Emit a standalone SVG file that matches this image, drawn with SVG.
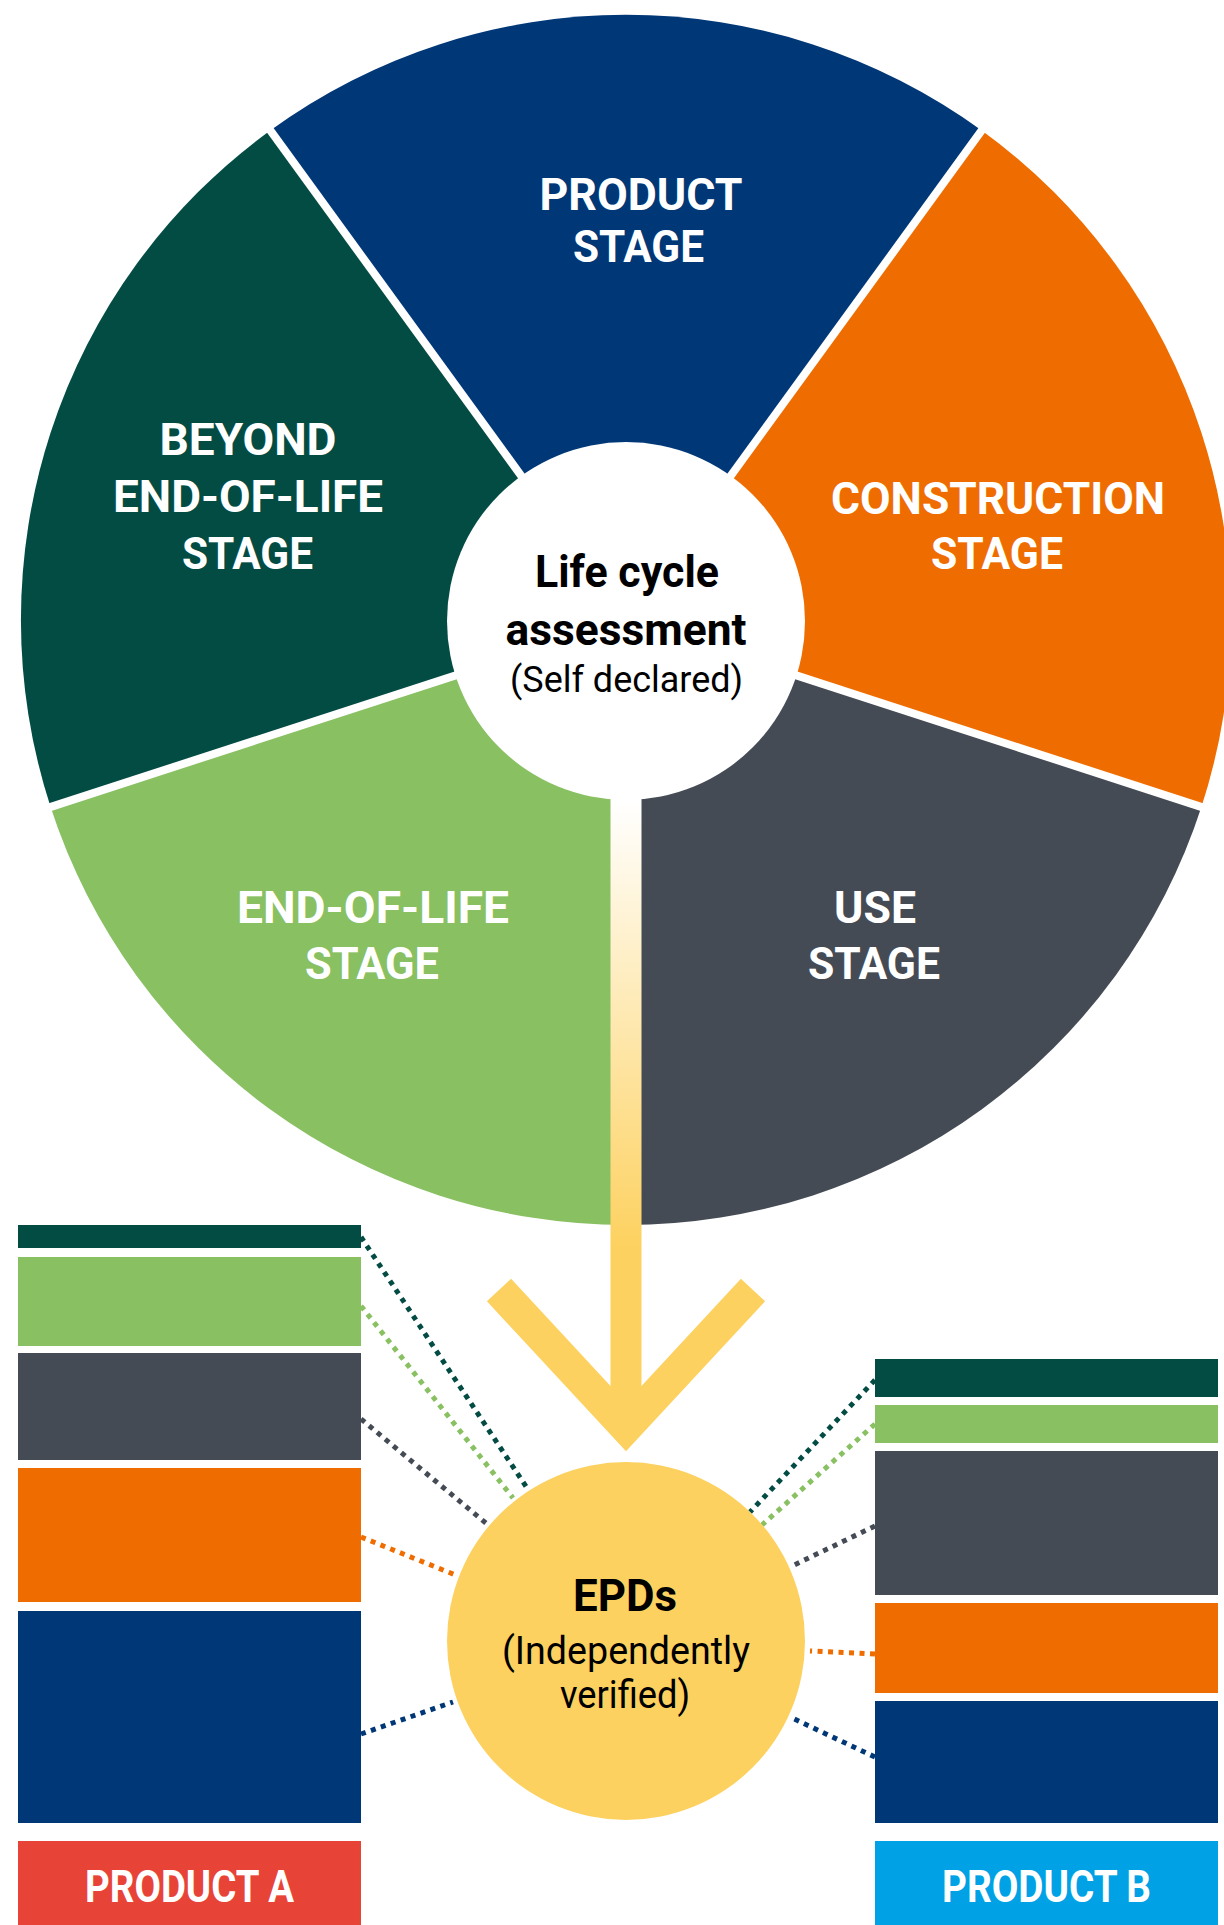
<svg xmlns="http://www.w3.org/2000/svg" width="1224" height="1925" viewBox="0 0 1224 1925">
<defs>
<linearGradient id="barGrad" gradientUnits="userSpaceOnUse" x1="0" y1="800" x2="0" y2="1250">
<stop offset="0" stop-color="#FFFFFF"/>
<stop offset="1" stop-color="#FDD15F"/>
</linearGradient>
<style>
.lbl{font-family:Roboto,"Liberation Sans",sans-serif;font-weight:700;font-size:44px;fill:#FFFFFF;text-anchor:middle}
.dark{font-family:Roboto,"Liberation Sans",sans-serif;fill:#000000;text-anchor:middle}
.b{font-weight:700}
.gap{stroke:#FFFFFF;stroke-width:8;fill:none}
.dot{fill:none;stroke-width:5;stroke-dasharray:5 5.5}
</style>
</defs>
<rect width="1224" height="1925" fill="#FFFFFF"/>

<g id="wheel">
<g id="product-stage">
<path d="M626,620 L270.6,130.2 A605,605 0 0 1 981.4,130.2 Z" fill="#003777"/>
<text class="lbl" x="641" y="210" textLength="203" lengthAdjust="spacingAndGlyphs">PRODUCT</text>
<text class="lbl" x="638.5" y="262" textLength="131" lengthAdjust="spacingAndGlyphs">STAGE</text>
</g>
<g id="construction-stage">
<path d="M626,620 L981.4,130.2 A605,605 0 0 1 1201.4,807 Z" fill="#EF6D00"/>
<text class="lbl" x="998" y="514" textLength="334" lengthAdjust="spacingAndGlyphs">CONSTRUCTION</text>
<text class="lbl" x="997" y="569" textLength="132" lengthAdjust="spacingAndGlyphs">STAGE</text>
</g>
<g id="use-stage">
<path d="M626,620 L1201.4,807 A605,605 0 0 1 626,1225 Z" fill="#454B55"/>
<text class="lbl" x="875" y="923" textLength="82" lengthAdjust="spacingAndGlyphs">USE</text>
<text class="lbl" x="874" y="979" textLength="132" lengthAdjust="spacingAndGlyphs">STAGE</text>
</g>
<g id="end-of-life-stage">
<path d="M626,620 L626,1225 A605,605 0 0 1 50.6,807 Z" fill="#88C062"/>
<text class="lbl" x="373" y="923" textLength="272" lengthAdjust="spacingAndGlyphs">END-OF-LIFE</text>
<text class="lbl" x="372" y="979" textLength="134" lengthAdjust="spacingAndGlyphs">STAGE</text>
</g>
<g id="beyond-stage">
<path d="M626,620 L50.6,807 A605,605 0 0 1 270.6,130.2 Z" fill="#034C44"/>
<text class="lbl" x="248" y="455" textLength="177" lengthAdjust="spacingAndGlyphs">BEYOND</text>
<text class="lbl" x="248" y="512" textLength="270" lengthAdjust="spacingAndGlyphs">END-OF-LIFE</text>
<text class="lbl" x="247.5" y="569" textLength="131" lengthAdjust="spacingAndGlyphs">STAGE</text>
</g>
<g id="gaps">
<line class="gap" x1="626" y1="620" x2="261.6" y2="118.4"/>
<line class="gap" x1="626" y1="620" x2="990.4" y2="118.4"/>
<line class="gap" x1="626" y1="620" x2="1215.7" y2="811.6"/>
<line class="gap" x1="626" y1="620" x2="36.3" y2="811.6"/>
</g>
</g>

<g id="connectors">
<rect x="610.5" y="790" width="31" height="620" fill="url(#barGrad)"/>
<polyline points="499,1290 626,1427 753,1290" fill="none" stroke="#FDD15F" stroke-width="33" stroke-linejoin="miter" stroke-miterlimit="10"/>
<line class="dot" stroke="#034C44" x1="361" y1="1237" x2="527" y2="1488"/>
<line class="dot" stroke="#88C062" x1="361" y1="1306" x2="513" y2="1498"/>
<line class="dot" stroke="#454B55" x1="361" y1="1419" x2="487" y2="1524"/>
<line class="dot" stroke="#EF6D00" x1="361" y1="1537" x2="458" y2="1576"/>
<line class="dot" stroke="#003777" x1="361" y1="1734" x2="453" y2="1702"/>
<line class="dot" stroke="#034C44" x1="875" y1="1380" x2="750" y2="1512"/>
<line class="dot" stroke="#88C062" x1="875" y1="1424" x2="762" y2="1525"/>
<line class="dot" stroke="#454B55" x1="875" y1="1526" x2="790" y2="1567"/>
<line class="dot" stroke="#EF6D00" x1="875" y1="1654" x2="810" y2="1651"/>
<line class="dot" stroke="#003777" x1="875" y1="1757" x2="790" y2="1717"/>
</g>

<g id="lca">
<circle cx="626" cy="621" r="179" fill="#FFFFFF"/>
<text class="dark b" x="627" y="587" font-size="44" textLength="184" lengthAdjust="spacingAndGlyphs">Life cycle</text>
<text class="dark b" x="626" y="645" font-size="44" textLength="241" lengthAdjust="spacingAndGlyphs">assessment</text>
<text class="dark" x="626.5" y="692" font-size="36" textLength="233" lengthAdjust="spacingAndGlyphs">(Self declared)</text>
</g>

<g id="epds">
<circle cx="626" cy="1641" r="179" fill="#FDD15F"/>
<text class="dark b" x="625" y="1611" font-size="44" textLength="104" lengthAdjust="spacingAndGlyphs">EPDs</text>
<text class="dark" x="626" y="1664" font-size="39" textLength="248" lengthAdjust="spacingAndGlyphs">(Independently</text>
<text class="dark" x="625" y="1708" font-size="39" textLength="130" lengthAdjust="spacingAndGlyphs">verified)</text>
</g>

<g id="product-a">
<rect x="18" y="1225" width="343" height="23" fill="#034C44"/>
<rect x="18" y="1257" width="343" height="89" fill="#88C062"/>
<rect x="18" y="1353" width="343" height="107" fill="#454B55"/>
<rect x="18" y="1468" width="343" height="134" fill="#EF6D00"/>
<rect x="18" y="1611" width="343" height="212" fill="#003777"/>
<rect x="18" y="1841" width="343" height="84" fill="#E84337"/>
<text class="lbl" x="189.5" y="1902" font-size="40" textLength="209" lengthAdjust="spacingAndGlyphs">PRODUCT A</text>
</g>

<g id="product-b">
<rect x="875" y="1359" width="343" height="38" fill="#034C44"/>
<rect x="875" y="1405" width="343" height="38" fill="#88C062"/>
<rect x="875" y="1451" width="343" height="144" fill="#454B55"/>
<rect x="875" y="1603" width="343" height="90" fill="#EF6D00"/>
<rect x="875" y="1701" width="343" height="122" fill="#003777"/>
<rect x="875" y="1841" width="343" height="84" fill="#00A2E5"/>
<text class="lbl" x="1046.5" y="1902" font-size="40" textLength="209" lengthAdjust="spacingAndGlyphs">PRODUCT B</text>
</g>
</svg>
